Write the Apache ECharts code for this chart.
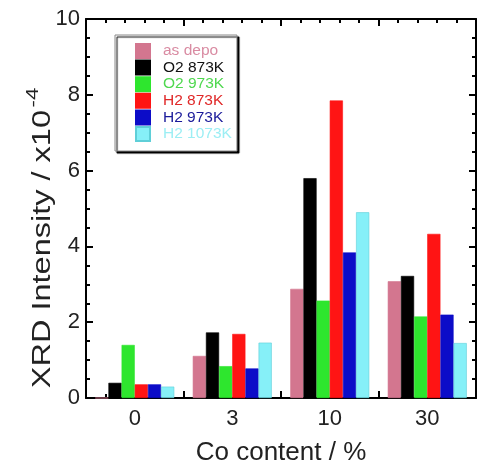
<!DOCTYPE html>
<html>
<head>
<meta charset="utf-8">
<script src="https://cdn.jsdelivr.net/npm/echarts@6/dist/echarts.min.js"></script>
<style>
  html, body { margin: 0; padding: 0; background: #fff; }
  #chart { width: 478px; height: 467px; }
</style>
</head>
<body>
<div id="chart"></div>
<script>
// Co content groups (%)
const categories = ['0', '3', '10', '30'];

// XRD intensity (x10^-4) per treatment
const seriesNames = ['as depo', 'O2 873K', 'O2 973K', 'H2 873K', 'H2 973K', 'H2 1073K'];
const asDepo   = [0.0, 1.11, 2.88, 3.08];
const o2_873   = [0.40, 1.73, 5.80, 3.22];
const o2_973   = [1.40, 0.84, 2.57, 2.15];
const h2_873   = [0.36, 1.69, 7.85, 4.33];
const h2_973   = [0.36, 0.78, 3.84, 2.20];
const h2_1073  = [0.30, 1.46, 4.90, 1.45];

const seriesData = [asDepo, o2_873, o2_973, h2_873, h2_973, h2_1073];
const barColors  = ['#d3768f', '#000000', '#2ee62e', '#ff1414', '#0c0cc8', '#86f0f8'];
const textColors = ['#d98ba2', '#111111', '#4fd84f', '#e02828', '#1a1a9a', '#9ceef4'];
const borderColors = ['#d3768f', '#000000', '#2ee62e', '#ff1414', '#0c0cc8', '#5fcfd8'];

const FONT = '"Liberation Sans", Arial, Helvetica, sans-serif';
const INK = '#222';

const chart = echarts.init(document.getElementById('chart'), null, { renderer: 'canvas' });

// Frame axes: ticks only, inward, with minor ticks
function frameX(position) {
  return {
    type: 'value', position: position, min: 0, max: 4, interval: 1,
    axisLine: { show: true, onZero: false, lineStyle: { color: '#000', width: 2 } },
    axisTick: { show: true, inside: true, length: 7, lineStyle: { color: '#000', width: 2 } },
    minorTick: { show: true, splitNumber: 5, length: 4, lineStyle: { color: '#000', width: 2 } },
    axisLabel: { show: false }, splitLine: { show: false }, minorSplitLine: { show: false }
  };
}
function frameY(position, showLabels) {
  return {
    type: 'value', position: position, min: 0, max: 10, interval: 2,
    axisLine: { show: true, onZero: false, lineStyle: { color: '#000', width: 2 } },
    axisTick: { show: true, inside: true, length: 7, lineStyle: { color: '#000', width: 2 } },
    minorTick: { show: true, splitNumber: 4, length: 4, lineStyle: { color: '#000', width: 2 } },
    axisLabel: { show: showLabels, fontFamily: FONT, fontSize: 22, color: INK, margin: 6 },
    splitLine: { show: false }, minorSplitLine: { show: false }
  };
}

const option = {
  animation: false,
  backgroundColor: '#fff',
  grid: { left: 86, right: 2, top: 19, bottom: 69, containLabel: false, outerBoundsMode: 'none' },
  xAxis: [
    {
      type: 'category', data: categories, position: 'bottom',
      axisLine: { show: false }, axisTick: { show: false },
      axisLabel: { fontFamily: FONT, fontSize: 22, color: INK, margin: 10 },
      name: 'Co content / %', nameLocation: 'middle', nameGap: 42,
      nameTextStyle: { fontFamily: FONT, fontSize: 26, color: INK }
    },
    frameX('bottom'),
    frameX('top')
  ],
  yAxis: [frameY('left', true), frameY('right', false)],
  legend: {
    orient: 'vertical', left: 115, top: 35,
    padding: [8, 5, 9, 20],
    itemWidth: 14, itemHeight: 14, itemGap: 0.6,
    icon: 'rect',
    backgroundColor: '#fff', borderColor: '#8a8a8a', borderWidth: 1,
    shadowColor: '#000', shadowBlur: 1, shadowOffsetX: 2, shadowOffsetY: 2,
    textStyle: { fontFamily: FONT, fontSize: 15.5, lineHeight: 14, padding: [0, 0, 0, 8] },
    data: seriesNames.map((n, i) => ({ name: n, textStyle: { color: textColors[i] } }))
  },
  graphic: [{
    type: 'text', x: 40, y: 238, rotation: Math.PI / 2, scaleX: 1.3,
    style: {
      text: '{a|XRD Intensity / x10}{b|-4}',
      align: 'center', verticalAlign: 'middle',
      rich: {
        a: { fontFamily: FONT, fontSize: 25, fill: INK, verticalAlign: 'bottom' },
        b: { fontFamily: FONT, fontSize: 17, fill: INK, verticalAlign: 'bottom', padding: [0, 0, 14, 2] }
      }
    }
  }],
  series: seriesNames.map((n, i) => ({
    name: n, type: 'bar', xAxisIndex: 0, yAxisIndex: 0,
    data: seriesData[i],
    barGap: '0%', barCategoryGap: '19%',
    itemStyle: { color: barColors[i], borderColor: borderColors[i], borderWidth: 0.6 }
  }))
};

chart.setOption(option);
</script>
</body>
</html>
